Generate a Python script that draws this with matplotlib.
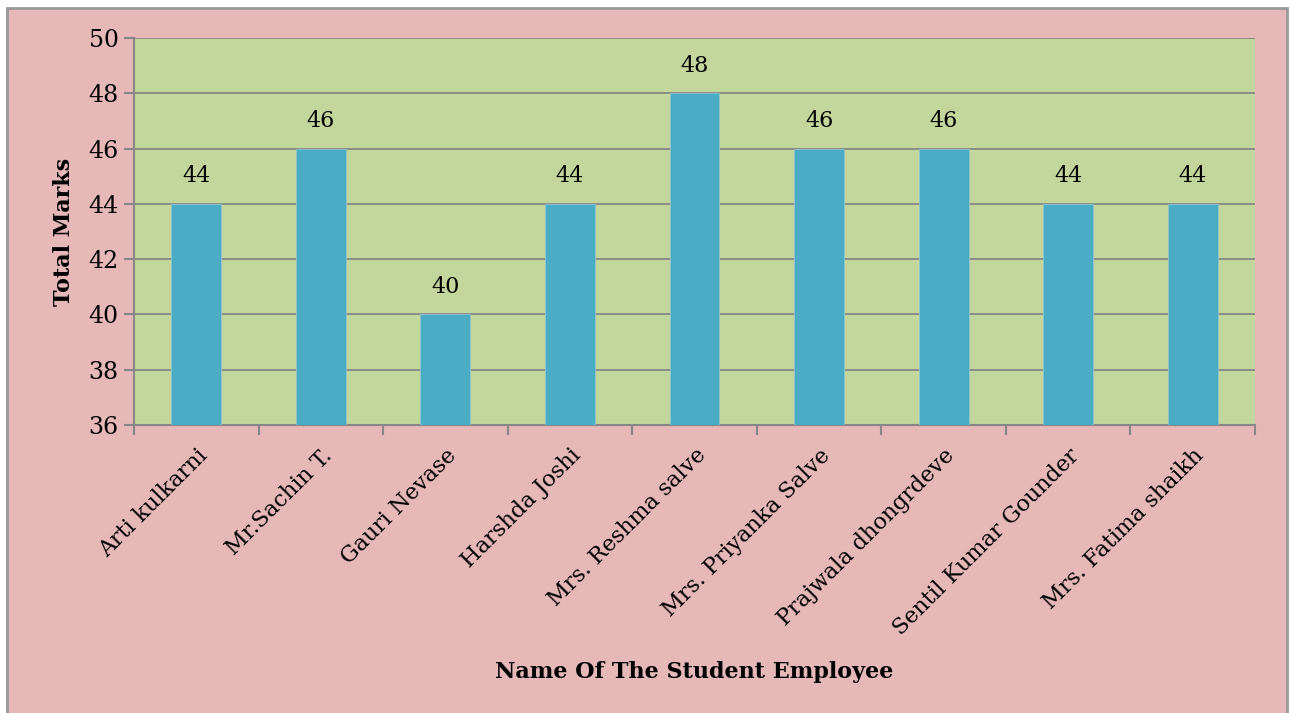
import matplotlib.pyplot as plt
from matplotlib.patches import Rectangle
import numpy as np

# Data
names = ["Arti kulkarni", "Mr.Sachin T.", "Gauri Nevase", "Harshda Joshi",
         "Mrs. Reshma salve", "Mrs. Priyanka Salve", "Prajwala dhongrdeve",
         "Sentil Kumar Gounder", "Mrs. Fatima shaikh"]
marks = [44, 46, 40, 44, 48, 46, 46, 44, 44]
y_ticks = [36, 38, 40, 42, 44, 46, 48, 50]

plt.rcParams['font.family'] = ['DejaVu Serif']

pink = '#E6B8B7'
green = '#C3D69B'
blue = '#4BACC6'
gray = '#878787'

fig = plt.figure(figsize=(12.9, 7.13), dpi=100)
fig.patch.set_facecolor('white')

# outer chart frame
frame = Rectangle((7 / 1290, -0.01), (1287 - 7) / 1290, 1 - 8 / 713 + 0.01,
                  transform=fig.transFigure, facecolor=pink, edgecolor='#999999',
                  linewidth=2, zorder=-10)
fig.patches.append(frame)

ax = fig.add_axes([134 / 1290, 1 - 425 / 713, (1255 - 134) / 1290, (425 - 38) / 713])
ax.set_facecolor(green)

x = np.arange(len(names))
ax.bar(x, marks, width=0.4, bottom=0, color=blue, edgecolor='#8FC4CF',
       linewidth=0.6, zorder=3)

ax.set_ylim(36, 50)
ax.set_xlim(-0.5, len(names) - 0.5)
ax.set_yticks(y_ticks)
ax.yaxis.grid(True, color=gray, linewidth=1.3, zorder=1)

for xi, v in zip(x, marks):
    ax.annotate(str(v), (xi, v), xytext=(0, 12), textcoords='offset points',
                ha='center', va='bottom', fontsize=16)

# category ticks between bars
ax.set_xticks(np.arange(-0.5, len(names), 1.0))
ax.set_xticklabels([])
ax.set_xticks(x, minor=True)
ax.set_xticklabels(names, minor=True, rotation=45, ha='right',
                   rotation_mode='anchor', fontsize=16)
ax.tick_params(axis='x', which='minor', length=0, pad=14)
ax.tick_params(axis='x', which='major', length=7, width=1.5, color=gray)
ax.tick_params(axis='y', length=7, width=1.5, color=gray, labelsize=17, pad=4)

for s in ['top', 'right']:
    ax.spines[s].set_visible(False)
for s in ['left', 'bottom']:
    ax.spines[s].set_color(gray)
    ax.spines[s].set_linewidth(1.5)

ax.set_ylabel("Total Marks", fontsize=16, fontweight='bold', labelpad=10)
fig.text(694 / 1290, 1 - 672 / 713, "Name Of The Student Employee",
         ha='center', va='center', fontsize=16, fontweight='bold')

fig.savefig("out.png", dpi=100)
